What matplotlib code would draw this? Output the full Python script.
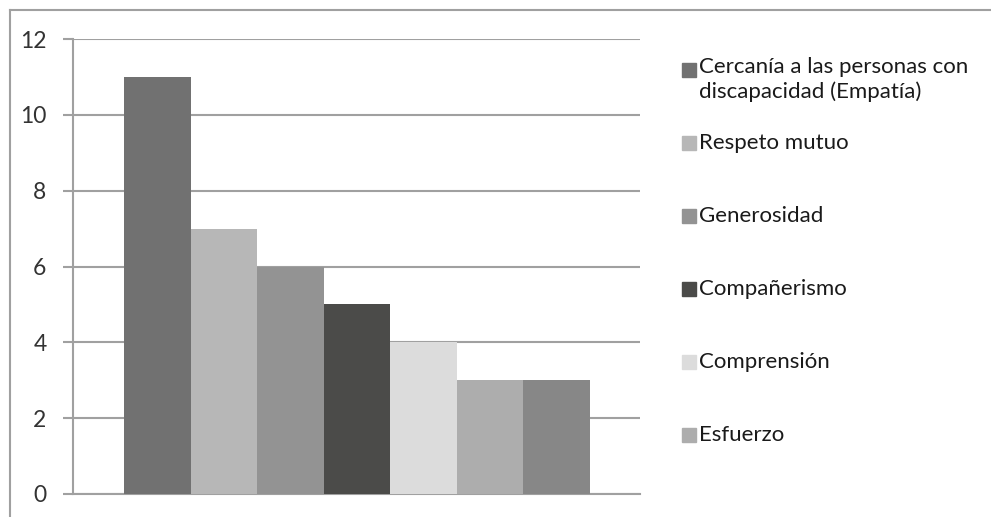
import numpy as np
import matplotlib.pyplot as plt
from matplotlib.patches import Rectangle
from matplotlib.lines import Line2D

plt.rcParams['font.family'] = ['Lato', 'DejaVu Sans']

labels = ['Cercanía a las personas con\ndiscapacidad (Empatía)', 'Respeto mutuo',
          'Generosidad', 'Compañerismo', 'Comprensión', 'Esfuerzo', '']
values = [11, 7, 6, 5, 4, 3, 3]
colors = ['#717171', '#b7b7b7', '#939393', '#4b4b49', '#dcdcdc', '#adadad', '#878787']
yticks = [0, 2, 4, 6, 8, 10, 12]

W, H = 991, 517
fig = plt.figure(figsize=(W / 100, H / 100), dpi=100)
ax = fig.add_axes([73 / W, 23 / H, (640 - 73) / W, (494 - 39) / H])

x = np.arange(len(values))
ax.bar(x, values, width=1.0, color=colors, zorder=3)
ax.set_xlim(-1.266, 7.25)
ax.set_ylim(0, 12)
ax.set_yticks(yticks)
ax.set_xticks([])
ax.yaxis.grid(True, color='#a0a0a0', linewidth=1.5, zorder=0)
for s in ['top', 'right']:
    ax.spines[s].set_visible(False)
ax.spines['left'].set_color('#a0a0a0')
ax.spines['left'].set_linewidth(1.5)
ax.spines['bottom'].set_color('#a0a0a0')
ax.spines['bottom'].set_linewidth(1.5)
ax.tick_params(axis='y', length=7, width=1.5, color='#a0a0a0', labelsize=16.5,
               labelcolor='#333333', pad=12)

# outer chart border (cut off at right/bottom)
fig.add_artist(Line2D([10 / W, 1.0], [1 - 10 / H, 1 - 10 / H], color='#a0a0a0', lw=1.5))
fig.add_artist(Line2D([10 / W, 10 / W], [0, 1 - 10 / H], color='#a0a0a0', lw=1.5))

# legend (only first six entries visible)
leg_y = [70, 143, 216, 289, 362, 435]
for i, yc in enumerate(leg_y):
    fig.add_artist(Rectangle((682 / W, 1 - (yc + 7) / H), 14 / W, 14 / H,
                             transform=fig.transFigure, color=colors[i]))
    if i == 0:
        fig.text(699 / W, 1 - (yc - 13) / H, labels[i], fontsize=16, color='#1a1a1a',
                 va='top', ha='left', linespacing=1.25)
    else:
        fig.text(699 / W, 1 - yc / H, labels[i], fontsize=16, color='#1a1a1a',
                 va='center', ha='left')

fig.savefig('out.png', dpi=100)
